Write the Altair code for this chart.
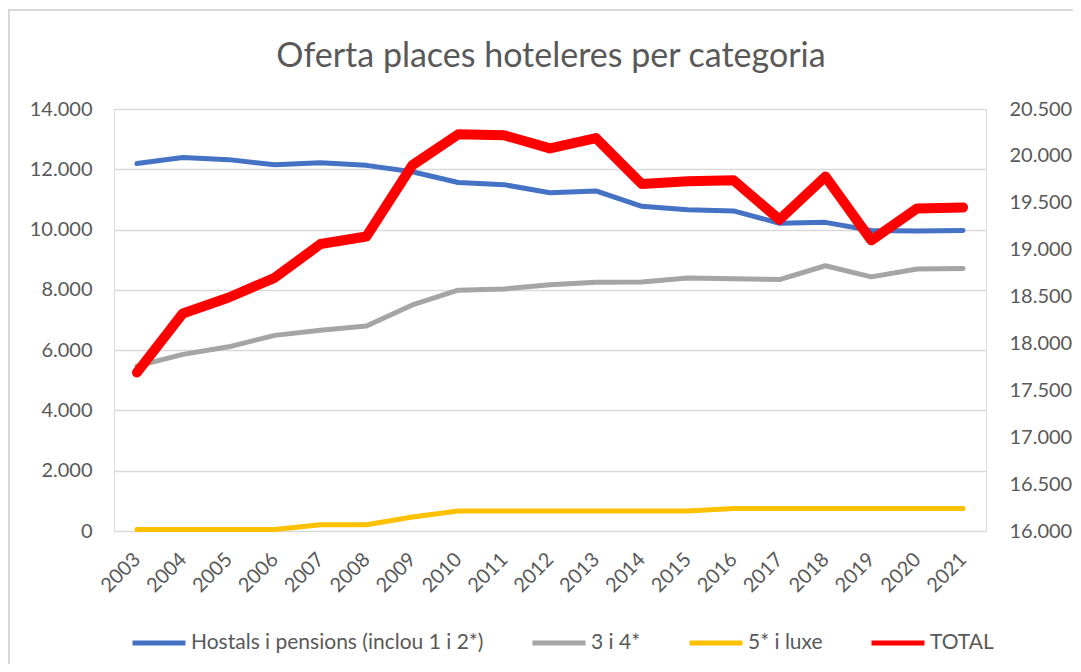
import altair as alt
import pandas as pd

years = [str(y) for y in range(2003, 2022)]
hostals = [12190, 12390, 12320, 12150, 12220, 12130, 11920, 11560, 11490, 11220,
           11280, 10770, 10660, 10620, 10210, 10240, 9970, 9950, 9970]
tres_quatre = [5470, 5860, 6110, 6490, 6660, 6800, 7500, 7990, 8030, 8170,
               8250, 8260, 8390, 8370, 8340, 8800, 8430, 8690, 8710]
cinc_luxe = [50, 50, 50, 50, 210, 210, 465, 665, 665, 665,
             665, 665, 665, 745, 745, 745, 745, 745, 745]
total = [17690, 18320, 18490, 18700, 19060, 19140, 19900, 20230, 20220, 20080,
         20190, 19700, 19730, 19740, 19320, 19780, 19100, 19440, 19450]

series_names = ["Hostals i pensions (inclou 1 i 2*)", "3 i 4*", "5* i luxe", "TOTAL"]
series_colors = ["#4472C4", "#A5A5A5", "#FFC000", "#FF0000"]
left_ticks = list(range(0, 14001, 2000))
right_ticks = list(range(16000, 20501, 500))
title_text = "Oferta places hoteleres per categoria"

rows = []
for i, y in enumerate(years):
    for name, vals in zip(series_names, [hostals, tres_quatre, cinc_luxe, total]):
        rows.append({"year": y, "series": name, "value": vals[i]})
df = pd.DataFrame(rows)

W, H = 872, 422
PAD = {"left": 106, "top": 101, "right": 87, "bottom": 133}
TXT = "#595959"
FONT = "Lato"
fmt = "replace(format(datum.value, ',d'), ',', '.')"

x_enc = alt.X(
    "year:O", sort=years,
    scale=alt.Scale(type="point", padding=0.5),
    axis=alt.Axis(title=None, labelAngle=-45, labelAlign="right", labelBaseline="middle",
                  labelPadding=25, domain=False, ticks=False, grid=False,
                  labelFontSize=20, labelColor=TXT, labelFont=FONT),
)
color_enc = alt.Color(
    "series:N", sort=series_names,
    scale=alt.Scale(domain=series_names, range=series_colors),
    legend=alt.Legend(title=None, orient="none", legendX=16, legendY=505,
                      direction="horizontal", symbolType="stroke", symbolSize=2809,
                      symbolStrokeWidth=5,
                      labelFontSize=21, labelColor=TXT, labelFont=FONT, labelLimit=500,
                      columnPadding=38, labelOffset=3),
)

base = alt.Chart(df).encode(x=x_enc, color=color_enc)

left = base.transform_filter(alt.datum.series != "TOTAL").mark_line(
    strokeCap="round", strokeJoin="round", strokeWidth=5
).encode(
    y=alt.Y("value:Q", scale=alt.Scale(domain=[0, 14000], nice=False, zero=False),
            axis=alt.Axis(title=None, values=left_ticks, labelExpr=fmt, grid=True,
                          gridColor="#D9D9D9", gridWidth=1.5, domain=False, ticks=False,
                          labelPadding=22, labelFontSize=20, labelColor=TXT, labelFont=FONT))
)

right = base.transform_filter(alt.datum.series == "TOTAL").mark_line(
    strokeCap="round", strokeJoin="round", strokeWidth=10
).encode(
    y=alt.Y("value:Q", scale=alt.Scale(domain=[16000, 20500], nice=False, zero=False),
            axis=alt.Axis(title=None, orient="right", values=right_ticks, labelExpr=fmt,
                          grid=False, domain=False, ticks=False, labelPadding=23,
                          labelFontSize=20, labelColor=TXT, labelFont=FONT))
)

border = alt.Chart(pd.DataFrame({"k": [0]})).mark_rect(
    fill=None, stroke="#D9D9D9", strokeWidth=2
).encode(
    x=alt.value(-PAD["left"] + 1), x2=alt.value(W + PAD["right"] + 20),
    y=alt.value(-PAD["top"] + 2), y2=alt.value(H + PAD["bottom"] + 20),
)

title = alt.Chart(pd.DataFrame({"t": [title_text]})).mark_text(
    font=FONT, fontSize=34, color=TXT, align="center", baseline="alphabetic"
).encode(
    text="t:N", x=alt.value(437), y=alt.value(-42),
)

chart = alt.layer(border, title, left, right).resolve_scale(y="independent").properties(
    width=W, height=H,
    autosize=alt.AutoSizeParams(type="none"),
    padding=PAD,
).configure_view(stroke=None).configure(background="white")

chart.save("out.html", embed_options={"renderer": "svg", "actions": False})
